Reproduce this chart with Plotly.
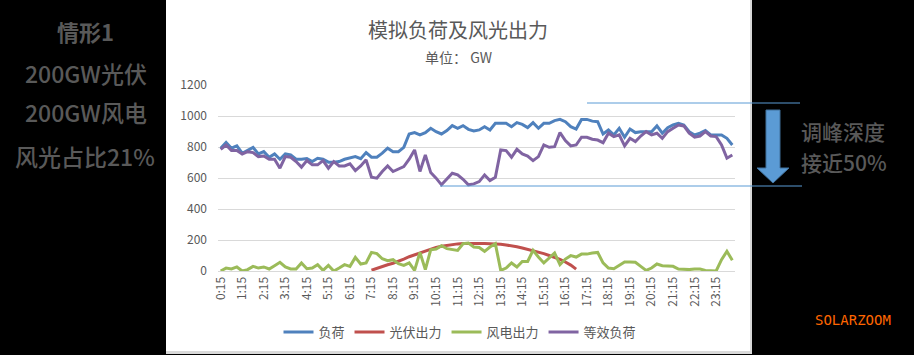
import plotly.graph_objects as go

# ---------------- data ----------------
categories = [f"{((i + 1) * 15) // 60}:{((i + 1) * 15) % 60:02d}" for i in range(96)]
tick_labels = categories[::4]

load = [792, 830, 792, 807, 760, 781, 798, 755, 770, 734,
        755, 721, 755, 749, 721, 721, 725, 706, 727, 721,
        702, 702, 706, 721, 732, 738, 725, 764, 734, 734,
        760, 792, 770, 770, 798, 884, 893, 878, 893, 921,
        899, 884, 906, 938, 921, 938, 914, 903, 910, 931,
        910, 953, 953, 953, 931, 957, 946, 925, 957, 921,
        953, 953, 970, 978, 963, 931, 916, 978, 978, 967,
        963, 884, 910, 878, 921, 863, 916, 893, 899, 899,
        899, 936, 889, 925, 942, 953, 942, 899, 878, 889,
        906, 878, 878, 878, 856, 813]

pv = [None] * 28 + [5, 18, 30, 40, 50, 62, 77, 92, 105, 118,
                    130, 142, 152, 160, 166, 171, 175, 177, 178, 179,
                    178, 177, 176, 175, 172, 168, 163, 156, 148, 140,
                    132, 122, 112, 100, 88, 75, 58, 38, 12] + [None] * 29

wind = [0, 19, 13, 26, 0, 9, 30, 19, 26, 13,
        34, 56, 26, 13, 13, 52, 15, 19, 41, 4,
        36, 0, 19, 41, 30, 88, 45, 52, 120, 112,
        79, 67, 73, 47, 36, 52, 4, 120, 9, 137,
        142, 163, 144, 137, 133, 176, 180, 155, 152, 127,
        155, 176, 4, 19, 52, 26, 62, 62, 133, 90,
        52, 84, 116, 41, 77, 99, 90, 109, 109, 116,
        120, 52, 19, 15, 34, 58, 58, 56, 30, 4,
        19, 45, 34, 30, 30, 13, 9, 9, 13, 13,
        4, 0, 0, 73, 127, 69]

equiv = [785, 813, 777, 777, 755, 770, 764, 738, 742, 721,
         721, 663, 738, 734, 706, 670, 712, 685, 685, 712,
         663, 706, 678, 678, 691, 648, 678, 717, 605, 599,
         642, 678, 642, 657, 674, 721, 781, 642, 749, 635,
         599, 556, 592, 631, 620, 592, 556, 562, 577, 620,
         584, 605, 781, 777, 734, 785, 755, 742, 712, 738,
         813, 798, 802, 893, 841, 807, 813, 863, 863, 850,
         845, 828, 889, 867, 878, 807, 856, 835, 871, 899,
         878, 889, 856, 899, 921, 942, 936, 889, 863, 871,
         899, 871, 867, 813, 728, 749]

series_names = ["负荷", "光伏出力", "风电出力", "等效负荷"]
series_colors = ["#4F81BD", "#C0504D", "#9BBB59", "#8064A2"]

# ---------------- layout helpers ----------------
W, H = 914, 355
PL, PR, PT, PB = 218, 179, 85, 84
PW, PH = W - PL - PR, H - PT - PB


def fx(x):
    return (x - PL) / PW


def fy(y):
    return (H - PB - y) / PH


FONT = "Noto Sans CJK SC, Noto Sans, sans-serif"
GRAY = "#595959"

fig = go.Figure()
for name, vals, col in zip(series_names, [load, pv, wind, equiv], series_colors):
    fig.add_trace(go.Scatter(x=categories, y=vals, name=name, mode="lines",
                             line=dict(color=col, width=3), connectgaps=False))

shapes = [
    # panel shadow + panel
    dict(type="rect", xref="paper", yref="paper", x0=fx(166), x1=fx(752), y0=fy(354), y1=fy(0),
         fillcolor="#D9D9D9", line=dict(width=0), layer="below"),
    dict(type="rect", xref="paper", yref="paper", x0=fx(166), x1=fx(750), y0=fy(351), y1=fy(0),
         fillcolor="white", line=dict(width=0), layer="below"),
    # reference lines
    dict(type="line", xref="paper", yref="paper", x0=fx(587), x1=fx(800), y0=fy(103), y1=fy(103),
         line=dict(color="#5B9BD5", width=1)),
    dict(type="line", xref="paper", yref="paper", x0=fx(440), x1=fx(802), y0=fy(186), y1=fy(186),
         line=dict(color="#5B9BD5", width=1)),
]
arrow_pts = [(766, 110), (780, 110), (780, 168), (789, 168), (773, 183), (757, 168), (766, 168)]
path = "M " + " L ".join(f"{fx(x):.5f},{fy(y):.5f}" for x, y in arrow_pts) + " Z"
shapes.append(dict(type="path", xref="paper", yref="paper", path=path,
                   fillcolor="#5B9BD5", line=dict(color="#41719C", width=1)))

annotations = [
    dict(text="模拟负荷及风光出力", x=fx(458), y=fy(29), font=dict(size=20, color=GRAY)),
    dict(text="单位： GW", x=fx(458), y=fy(57), font=dict(size=14, color=GRAY)),
    dict(text="<b>情形1</b>", x=fx(85), y=fy(31), font=dict(size=22, color=GRAY)),
    dict(text="200GW光伏", x=fx(86), y=fy(73), font=dict(size=23, color=GRAY, weight=500)),
    dict(text="200GW风电", x=fx(86), y=fy(112), font=dict(size=23, color=GRAY, weight=500)),
    dict(text="风光占比21%", x=fx(85), y=fy(156), font=dict(size=23, color=GRAY, weight=500)),
    dict(text="调峰深度", x=fx(799), y=fy(131), xanchor="left",
         font=dict(size=21, color=GRAY, weight=500)),
    dict(text="接近50%", x=fx(799), y=fy(162), xanchor="left",
         font=dict(size=21, color=GRAY, weight=500)),
    dict(text="SOLARZOOM", x=fx(853), y=fy(320),
         font=dict(size=14, color="#FF6600", family="DejaVu Sans Mono, monospace")),
]
for a in annotations:
    a.setdefault("xanchor", "center")
    a.update(xref="paper", yref="paper", showarrow=False, yanchor="middle")
    a["font"].setdefault("family", FONT)

fig.update_layout(
    width=W, height=H,
    margin=dict(l=PL, r=PR, t=PT, b=PB, pad=0, autoexpand=False),
    paper_bgcolor="black", plot_bgcolor="white",
    font=dict(family=FONT, color=GRAY, size=11),
    shapes=shapes, annotations=annotations,
    showlegend=True,
    legend=dict(orientation="h", xref="container", yref="container",
                x=460 / W, y=1 - 332 / H, xanchor="center", yanchor="middle",
                font=dict(size=13, color=GRAY), bgcolor="rgba(0,0,0,0)", itemwidth=30,
                tracegroupgap=0),
    xaxis=dict(type="category", categoryorder="array", categoryarray=categories,
               tickmode="array", tickvals=tick_labels, ticktext=tick_labels,
               tickangle=-90, tickfont=dict(size=12, color=GRAY), showgrid=False,
               showline=True, linecolor="#D9D9D9", linewidth=1, ticks="",
               range=[-0.5, 95.5], fixedrange=True, automargin=False),
    yaxis=dict(range=[0, 1200], dtick=200, tickfont=dict(size=12, color=GRAY),
               showgrid=True, gridcolor="#D9D9D9", gridwidth=1, zeroline=False,
               showline=False, ticks="", ticklabelstandoff=10, automargin=False,
               fixedrange=True),
)

fig.write_html(
    "out.html",
    config={"displayModeBar": False},
    post_script="document.body.style.margin='0';document.body.style.padding='0';"
                "document.body.style.overflow='hidden';document.body.style.background='black';",
)
